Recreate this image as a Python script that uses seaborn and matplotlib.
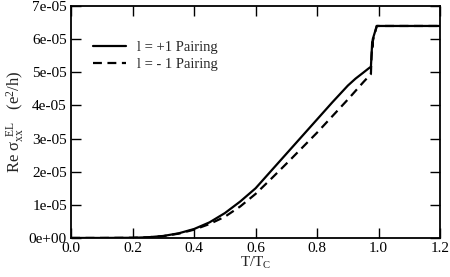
import numpy as np
import pandas as pd
import matplotlib
matplotlib.use("Agg")
import matplotlib.pyplot as plt
import seaborn as sns

# data (conductivity in units of 1e-5 e^2/h)
t_plus = [0.0, 0.1, 0.2, 0.25, 0.3, 0.35, 0.4, 0.45, 0.5, 0.55, 0.6, 0.65,
          0.7, 0.75, 0.8, 0.85, 0.9, 0.925, 0.95, 0.965, 0.975,
          0.9775, 0.979, 0.9795, 0.981, 0.994, 1.2]
sigma_plus = [0.0, 0.0, 0.005, 0.02, 0.06, 0.14, 0.27, 0.47, 0.75, 1.1,
              1.5, 2.02, 2.54, 3.06, 3.58, 4.1, 4.6, 4.81, 4.99, 5.1, 5.17,
              5.6, 5.9, 5.75, 6.0, 6.4, 6.4]
t_minus = [0.0, 0.1, 0.2, 0.25, 0.3, 0.35, 0.4, 0.45, 0.5, 0.55, 0.6, 0.65,
           0.7, 0.75, 0.8, 0.85, 0.9, 0.925, 0.95, 0.975, 0.977, 0.98,
           0.994, 1.2]
sigma_minus = [0.0, 0.0, 0.005, 0.02, 0.055, 0.13, 0.25, 0.42, 0.64, 0.95,
               1.33, 1.78, 2.24, 2.71, 3.18, 3.68, 4.18, 4.44, 4.7, 4.95,
               5.5, 5.9, 6.4, 6.4]
labels = ["l = +1 Pairing", "l = - 1 Pairing"]
x_ticks = [0.0, 0.2, 0.4, 0.6, 0.8, 1.0, 1.2]
y_ticks = [0, 1e-5, 2e-5, 3e-5, 4e-5, 5e-5, 6e-5, 7e-5]
y_ticklabels = ["0e+00", "1e-05", "2e-05", "3e-05", "4e-05", "5e-05",
                "6e-05", "7e-05"]

df_plus = pd.DataFrame({"T": t_plus, "sigma": np.array(sigma_plus) * 1e-5})
df_minus = pd.DataFrame({"T": t_minus, "sigma": np.array(sigma_minus) * 1e-5})

sns.set_style("ticks")
plt.rcParams["font.family"] = ["Liberation Serif", "DejaVu Serif"]
plt.rcParams["mathtext.fontset"] = "custom"
plt.rcParams["mathtext.rm"] = "Liberation Serif"
plt.rcParams["mathtext.it"] = "Liberation Serif:italic"

fig = plt.figure(figsize=(4.5, 2.77), dpi=100)
ax = fig.add_axes([0.158, 0.141, 0.82, 0.837])

sns.lineplot(data=df_plus, x="T", y="sigma", ax=ax, color="black",
             linewidth=1.6, sort=False, label=labels[0])
sns.lineplot(data=df_minus, x="T", y="sigma", ax=ax, color="black",
             linewidth=1.6, sort=False, linestyle=(0, (4, 2.5)),
             label=labels[1])

ax.set_xlim(0, 1.2)
ax.set_ylim(0, 7e-5)
ax.set_xticks(x_ticks)
ax.set_xticklabels([f"{v:.1f}" for v in x_ticks])
ax.set_yticks(y_ticks)
ax.set_yticklabels(y_ticklabels)
ax.tick_params(direction="in", length=7, width=1, top=True, right=True,
               labelsize=11, colors="black", pad=3)
for s in ax.spines.values():
    s.set_linewidth(1.3)
    s.set_color("black")

ax.set_xlabel(r"T/T$_\mathrm{C}$", fontsize=11, labelpad=0)
ax.set_ylabel(r"Re σ$_{\mathrm{xx}}^{\;\;\mathrm{EL}}$   (e$^{2}$/h)",
              fontsize=12, labelpad=2)

ax.legend(loc="upper left", bbox_to_anchor=(0.025, 0.905), frameon=False,
          fontsize=10.5, handlelength=2.2, handletextpad=0.8,
          labelspacing=0.25)

fig.savefig("out.png", dpi=100)
plt.close()
